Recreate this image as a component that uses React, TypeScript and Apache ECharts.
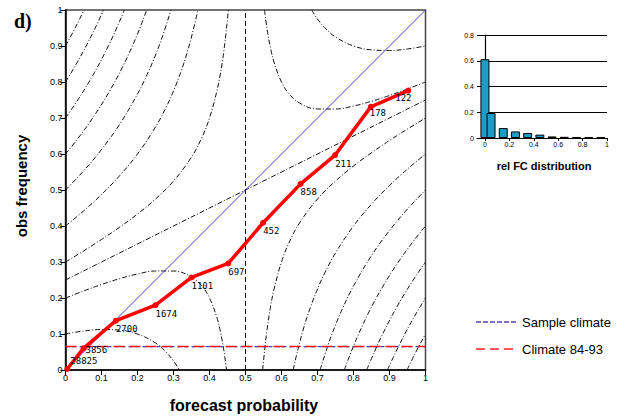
import React, { useEffect, useRef } from 'react';
import * as echarts from 'echarts';

// Reliability curve
const fcProb = [0.005, 0.05, 0.14, 0.25, 0.35, 0.452, 0.549, 0.653, 0.749, 0.848, 0.952];
const obsFreq = [0.003, 0.06, 0.137, 0.18, 0.257, 0.296, 0.409, 0.517, 0.597, 0.731, 0.776];
const sampleCounts = ['28825', '3856', '2700', '1674', '1101', '697', '452', '858', '211', '178', '122'];

// Relative forecast distribution (inset)
const histX = [0, 0.05, 0.15, 0.25, 0.35, 0.45, 0.55, 0.65, 0.75, 0.85, 0.95];
const histY = [0.612, 0.194, 0.077, 0.051, 0.039, 0.026, 0.012, 0.009, 0.008, 0.007, 0.006];

const climateValue = 0.065;

const mainTicks = [0, 0.1, 0.2, 0.3, 0.4, 0.5, 0.6, 0.7, 0.8, 0.9, 1];
const histXTicks = [0, 0.2, 0.4, 0.6, 0.8, 1];

// Isolines
const contourA = [[0, 0.1], [0.05, 0.1083], [0.1, 0.1125], [0.15, 0.1107], [0.2, 0.1], [0.25, 0.075], [0.28, 0.0491], [0.3, 0.025], [0.3162, 0]];
const contourB = [[0, 0.2], [0.05, 0.2194], [0.1, 0.2375], [0.15, 0.2536], [0.2, 0.2667], [0.25, 0.275], [0.3, 0.275], [0.35, 0.2583], [0.38, 0.2317], [0.4, 0.2], [0.42, 0.1475], [0.43, 0.1079], [0.44, 0.0533], [0.4472, 0]];
const contourC = [[0.5528, 1], [0.56, 0.9467], [0.57, 0.8921], [0.58, 0.8525], [0.6, 0.8], [0.62, 0.7683], [0.65, 0.7417], [0.7, 0.725], [0.75, 0.725], [0.8, 0.7333], [0.85, 0.7464], [0.9, 0.7625], [0.95, 0.7806], [1, 0.8]];
const contourD = [[0.6838, 1], [0.7, 0.975], [0.72, 0.9509], [0.75, 0.925], [0.8, 0.9], [0.85, 0.8893], [0.9, 0.8875], [0.95, 0.8917], [1, 0.9]];
const contourE = [[0, 0.3], [0.05, 0.3306], [0.1, 0.3625], [0.15, 0.3964], [0.2, 0.4333], [0.25, 0.475], [0.3, 0.525], [0.35, 0.5917], [0.38, 0.6483], [0.4, 0.7], [0.42, 0.7725], [0.43, 0.8221], [0.44, 0.8867], [0.45, 0.975], [0.4523, 1]];
const contourF = [[0, 0.4], [0.05, 0.4417], [0.1, 0.4875], [0.15, 0.5393], [0.2, 0.6], [0.25, 0.675], [0.28, 0.7309], [0.3, 0.775], [0.32, 0.8267], [0.34, 0.8888], [0.36, 0.9657], [0.3675, 1]];
const contourG = [[0, 0.5], [0.05, 0.5528], [0.1, 0.6125], [0.15, 0.6821], [0.2, 0.7667], [0.23, 0.828], [0.25, 0.875], [0.27, 0.9285], [0.2929, 1]];
const contourH = [[0, 0.6], [0.04, 0.6504], [0.08, 0.7067], [0.12, 0.7705], [0.16, 0.8447], [0.2, 0.9333], [0.2254, 1]];
const contourI = [[0, 0.7], [0.04, 0.7591], [0.08, 0.8257], [0.12, 0.9021], [0.15, 0.9679], [0.1633, 1]];
const contourJ = [[0, 0.8], [0.03, 0.8501], [0.06, 0.905], [0.09, 0.9657], [0.1056, 1]];
const contourK = [[0, 0.9], [0.02, 0.9371], [0.04, 0.9765], [0.0513, 1]];
const contourE2 = [[0.5477, 0], [0.55, 0.025], [0.56, 0.1133], [0.57, 0.1779], [0.58, 0.2275], [0.6, 0.3], [0.62, 0.3517], [0.65, 0.4083], [0.7, 0.475], [0.75, 0.525], [0.8, 0.5667], [0.85, 0.6036], [0.9, 0.6375], [0.95, 0.6694], [1, 0.7]];
const contourF2 = [[0.6325, 0], [0.64, 0.0343], [0.66, 0.1112], [0.68, 0.1733], [0.7, 0.225], [0.72, 0.2691], [0.75, 0.325], [0.8, 0.4], [0.85, 0.4607], [0.9, 0.5125], [0.95, 0.5583], [1, 0.6]];
const contourG2 = [[0.7071, 0], [0.73, 0.0715], [0.75, 0.125], [0.77, 0.172], [0.8, 0.2333], [0.85, 0.3179], [0.9, 0.3875], [0.95, 0.4472], [1, 0.5]];
const contourH2 = [[0.7746, 0], [0.8, 0.0667], [0.84, 0.1553], [0.88, 0.2295], [0.92, 0.2933], [0.96, 0.3496], [1, 0.4]];
const contourI2 = [[0.8367, 0], [0.85, 0.0321], [0.88, 0.0979], [0.92, 0.1743], [0.96, 0.2409], [1, 0.3]];
const contourJ2 = [[0.8944, 0], [0.91, 0.0343], [0.94, 0.095], [0.97, 0.1499], [1, 0.2]];
const contourK2 = [[0.9487, 0], [0.96, 0.0235], [0.98, 0.0629], [1, 0.1]];
const asymptoteSlant = [[0, 0.25], [1, 0.75]];
const asymptoteVertical = [[0.5, 0], [0.5, 1]];
const diagonal = [[0, 0], [1, 1]];

const contours = [contourA, contourB, contourC, contourD, contourE, contourF, contourG, contourH, contourI, contourJ, contourK,
  contourE2, contourF2, contourG2, contourH2, contourI2, contourJ2, contourK2];

export default function App() {
  const ref = useRef<HTMLDivElement>(null);
  useEffect(() => {
    if (!ref.current) return;
    const chart = echarts.init(ref.current, undefined, { renderer: 'svg' });
    const dashDot = [5, 2, 1, 2];
    const contourSeries: any[] = contours.map((c) => ({
      type: 'line', xAxisIndex: 0, yAxisIndex: 0, data: c, showSymbol: false, symbol: 'none',
      smooth: 0.4, silent: true, z: 1,
      lineStyle: { color: '#111', width: 1, type: dashDot },
    }));
    const redData = fcProb.map((x, i) => {
      let pos: number[] = [3, 7];
      if (i === 0) pos = [6, -9];
      if (i === 1) pos = [5, 0];
      if (i === 10) pos = [-10, 6];
      if (i === 9) pos = [2, 5];
      return { value: [x, obsFreq[i]], label: { position: pos } };
    });
    const option: any = {
      animation: false,
      grid: [
        { left: 65.5, top: 10, width: 360, height: 360, show: true, borderColor: '#444', borderWidth: 1.5, backgroundColor: 'transparent' },
        { left: 477, top: 35, width: 130, height: 103 },
      ],
      xAxis: [
        {
          type: 'value', gridIndex: 0, min: 0, max: 1, interval: 0.1,
          axisLine: { show: true, lineStyle: { color: '#000', width: 1.5 } },
          axisTick: { show: true, length: 5, lineStyle: { color: '#000' }, customValues: mainTicks },
          axisLabel: { fontSize: 9, color: '#000', margin: 3, fontFamily: 'Liberation Sans', customValues: mainTicks },
          splitLine: { show: false },
        },
        {
          type: 'value', gridIndex: 1, min: -0.065, max: 1,
          axisLine: { show: true, lineStyle: { color: '#000', width: 1.2 } },
          axisTick: { show: true, length: 3, lineStyle: { color: '#000' }, customValues: histXTicks },
          axisLabel: { fontSize: 7, color: '#000', margin: 3, fontFamily: 'Liberation Sans', customValues: histXTicks },
          splitLine: { show: false },
        },
      ],
      yAxis: [
        {
          type: 'value', gridIndex: 0, min: 0, max: 1, interval: 0.1,
          axisLine: { show: true, lineStyle: { color: '#000', width: 1.5 } },
          axisTick: { show: true, length: 5, lineStyle: { color: '#000' } },
          axisLabel: { fontSize: 9, color: '#000', margin: 3, fontFamily: 'Liberation Sans' },
          splitLine: { show: false },
        },
        {
          type: 'value', gridIndex: 1, min: 0, max: 0.8, interval: 0.2,
          axisLine: { show: true, lineStyle: { color: '#000', width: 1.2 } },
          axisTick: { show: true, length: 3, lineStyle: { color: '#000' } },
          axisLabel: { fontSize: 7, color: '#000', margin: 3, fontFamily: 'Liberation Sans' },
          splitLine: { show: true, lineStyle: { color: '#000', width: 1 } },
        },
      ],
      series: [
        ...contourSeries,
        {
          type: 'line', data: asymptoteSlant, showSymbol: false, symbol: 'none', silent: true, z: 1,
          lineStyle: { color: '#111', width: 1, type: dashDot },
        },
        {
          type: 'line', data: asymptoteVertical, showSymbol: false, symbol: 'none', silent: true, z: 1,
          lineStyle: { color: '#111', width: 1, type: [5, 3] },
        },
        {
          type: 'line', data: diagonal, showSymbol: false, symbol: 'none', silent: true, z: 2,
          lineStyle: { color: '#4a3fd0', width: 1 },
        },
        {
          type: 'line', data: [[0, climateValue], [1, climateValue]], showSymbol: false, symbol: 'none', silent: true, z: 2,
          lineStyle: { color: '#3a3fd0', width: 1.2, type: [4, 3] },
        },
        {
          type: 'line', data: [[0, climateValue], [1, climateValue]], showSymbol: false, symbol: 'none', silent: true, z: 3,
          lineStyle: { color: '#ff1010', width: 1.5, type: [11, 5] },
        },
        {
          type: 'line', data: redData, symbol: 'circle', symbolSize: 6, showSymbol: true, z: 5,
          itemStyle: { color: '#ff0000' },
          lineStyle: { color: '#ff0000', width: 3.5 },
          label: {
            show: true, color: '#000', fontSize: 9, fontFamily: 'DejaVu Sans Mono',
            formatter: (p: any) => sampleCounts[p.dataIndex],
          },
        },
        {
          type: 'bar', xAxisIndex: 1, yAxisIndex: 1, barWidth: 9,
          data: histX.map((x, i) => [x, histY[i]]),
          itemStyle: { color: '#1f9cc6', borderColor: '#000', borderWidth: 1 },
          z: 3,
        },
      ],
      graphic: [
        { type: 'text', left: 14, top: 11, style: { text: 'd)', font: 'bold 20px "Liberation Serif"', fill: '#000' } },
        { type: 'text', x: 244, y: 405, style: { text: 'forecast probability', font: 'bold 16px "Liberation Sans"', fill: '#000', align: 'center', verticalAlign: 'middle' } },
        { type: 'text', x: 21, y: 186, rotation: Math.PI / 2, style: { text: 'obs frequency', font: 'bold 15px "Liberation Sans"', fill: '#000', align: 'center', verticalAlign: 'middle' } },
        { type: 'text', x: 544, y: 166, style: { text: 'rel FC distribution', font: 'bold 11px "Liberation Sans"', fill: '#000', align: 'center', verticalAlign: 'middle' } },
        { type: 'line', shape: { x1: 476, y1: 322, x2: 518, y2: 322 }, style: { stroke: '#5a3fb8', lineWidth: 1.5, lineDash: [5, 2] } },
        { type: 'text', x: 522, y: 322, style: { text: 'Sample climate', font: '13px "Liberation Sans"', fill: '#000', verticalAlign: 'middle' } },
        { type: 'line', shape: { x1: 476, y1: 349, x2: 518, y2: 349 }, style: { stroke: '#ff2020', lineWidth: 1.5, lineDash: [9, 5] } },
        { type: 'text', x: 522, y: 349, style: { text: 'Climate 84-93', font: '13px "Liberation Sans"', fill: '#000', verticalAlign: 'middle' } },
      ],
    };
    chart.setOption(option);
    return () => chart.dispose();
  }, []);
  return <div ref={ref} style={{ position: 'absolute', left: 0, top: 0, width: 639, height: 416, background: '#fff' }} />;
}
